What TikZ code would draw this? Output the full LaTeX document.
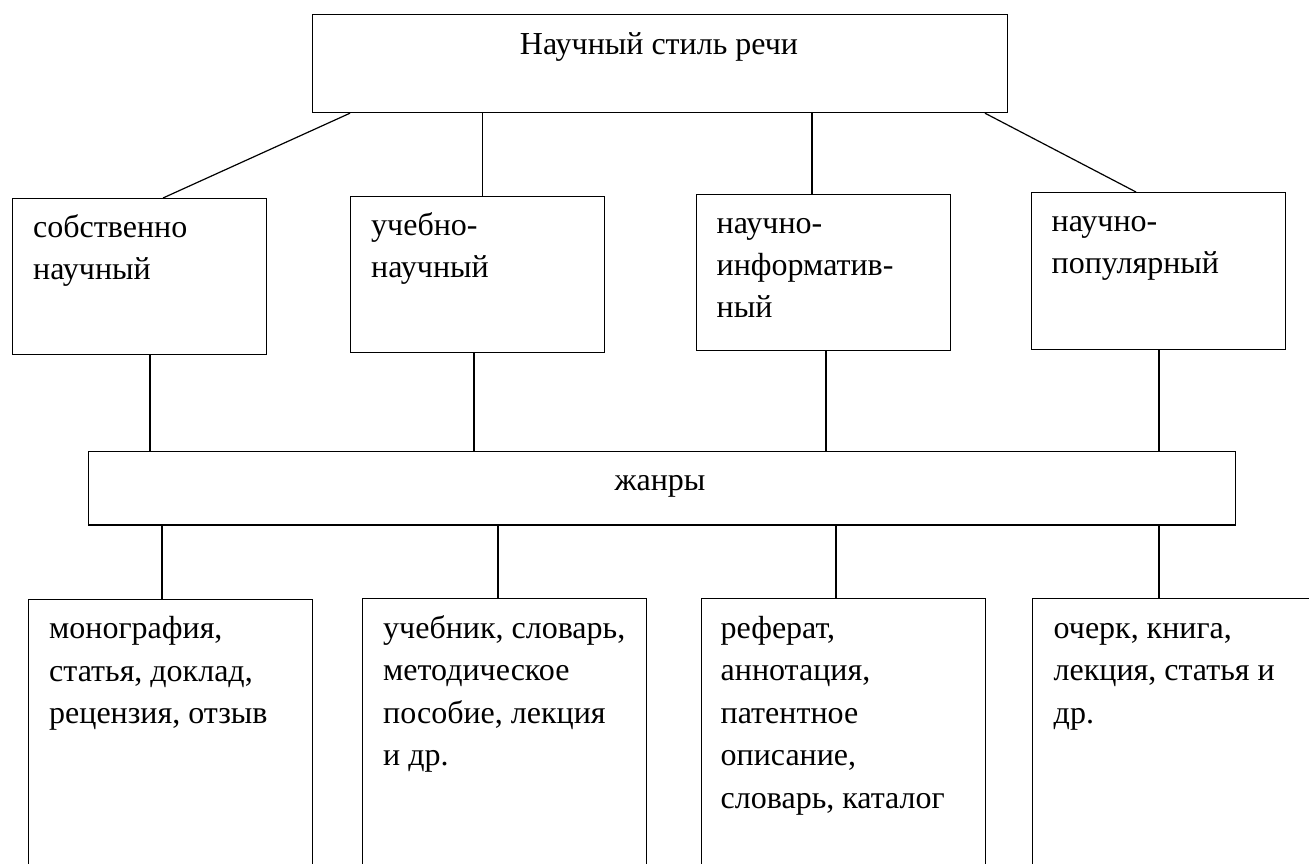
\documentclass[tikz,border=0pt]{standalone}
\usepackage{fontspec}
\setmainfont{Liberation Serif}
\newcommand{\txtlines}[1]{\begin{tabular}[t]{@{}l@{}}#1\end{tabular}}
\tikzset{
  frame/.style={draw, line width=1.2pt, inner sep=0pt, anchor=north west},
  txt/.style={inner sep=0pt, anchor=base west, font=\fontsize{32}{42.5}\selectfont},
  link/.style={line width=1.2pt},
}

\begin{document}
\begin{tikzpicture}[x=1pt, y=-1pt]
\useasboundingbox (0,0) rectangle (1309,864);
\clip (0,0) rectangle (1309,864);
% style
\node[frame, minimum width=695pt, minimum height=98pt] (stil) at (311.5,14) {};
\node[txt, anchor=base] (stiltxt) at (659,55) {Научный стиль речи};
% substyles
\node[frame, minimum width=254pt, minimum height=156pt] (sobst) at (12,198) {};
\node[frame, minimum width=254pt, minimum height=156pt] (ucheb) at (350,196) {};
\node[frame, minimum width=254.5pt, minimum height=156pt] (inform) at (695.5,194) {};
\node[frame, minimum width=254.5pt, minimum height=156.5pt] (popul) at (1030.5,192) {};
\node[txt] (sobsttxt) at ([shift={(21,39)}]sobst.north west) {\txtlines{собственно\\научный}};
\node[txt] (uchebtxt) at ([shift={(21,39)}]ucheb.north west) {\txtlines{учебно-\\научный}};
\node[txt] (informtxt) at ([shift={(21,39)}]inform.north west) {\txtlines{научно-\\информатив-\\ный}};
\node[txt] (popultxt) at ([shift={(21,39)}]popul.north west) {\txtlines{научно-\\популярный}};
% genres
\node[frame, minimum width=1146.5pt, minimum height=73.6pt] (zhanry) at (88,450.7) {};
\node[txt, anchor=base] (zhanrytxt) at (660,490) {жанры};
% genre lists (open at the bottom)
\node[frame, minimum width=284pt, minimum height=320pt] (monogr) at (28,598.5) {};
\node[frame, minimum width=283.5pt, minimum height=320pt] (uchebnik) at (362,598) {};
\node[frame, minimum width=284pt, minimum height=320pt] (referat) at (700.5,598) {};
\node[frame, minimum width=320pt, minimum height=320pt] (ocherk) at (1032,598) {};
\node[txt] (monogrtxt) at ([shift={(21,40)}]monogr.north west) {\txtlines{монография,\\статья, доклад,\\рецензия, отзыв}};
\node[txt] (uchebniktxt) at ([shift={(21,40)}]uchebnik.north west) {\txtlines{учебник, словарь,\\методическое\\пособие, лекция\\и др.}};
\node[txt] (referattxt) at ([shift={(20,40)}]referat.north west) {\txtlines{реферат,\\аннотация,\\патентное\\описание,\\словарь, каталог}};
\node[txt] (ocherktxt) at ([shift={(21.5,40)}]ocherk.north west) {\txtlines{очерк, книга,\\лекция, статья и\\др.}};
% links
\draw[link] ([xshift=38.5pt]stil.south west) -- ([xshift=151pt]sobst.north west);
\draw[link] ([xshift=132.5pt]ucheb.north west) coordinate (a) -- (a |- stil.south);
\draw[link] ([xshift=116.5pt]inform.north west) coordinate (b) -- (b |- stil.south);
\draw[link] ([xshift=673.5pt]stil.south west) -- ([xshift=105.5pt]popul.north west);
\draw[link] ([xshift=138pt]sobst.south west) coordinate (c) -- (c |- zhanry.north);
\draw[link] ([xshift=124pt]ucheb.south west) coordinate (d) -- (d |- zhanry.north);
\draw[link] ([xshift=130.5pt]inform.south west) coordinate (e) -- (e |- zhanry.north);
\draw[link] ([xshift=128.5pt]popul.south west) coordinate (f) -- (f |- zhanry.north);
\draw[link] ([xshift=134pt]monogr.north west) coordinate (g) -- (g |- zhanry.south);
\draw[link] ([xshift=136pt]uchebnik.north west) coordinate (h) -- (h |- zhanry.south);
\draw[link] ([xshift=135.5pt]referat.north west) coordinate (i) -- (i |- zhanry.south);
\draw[link] ([xshift=127pt]ocherk.north west) coordinate (j) -- (j |- zhanry.south);
\end{tikzpicture}
\end{document}
